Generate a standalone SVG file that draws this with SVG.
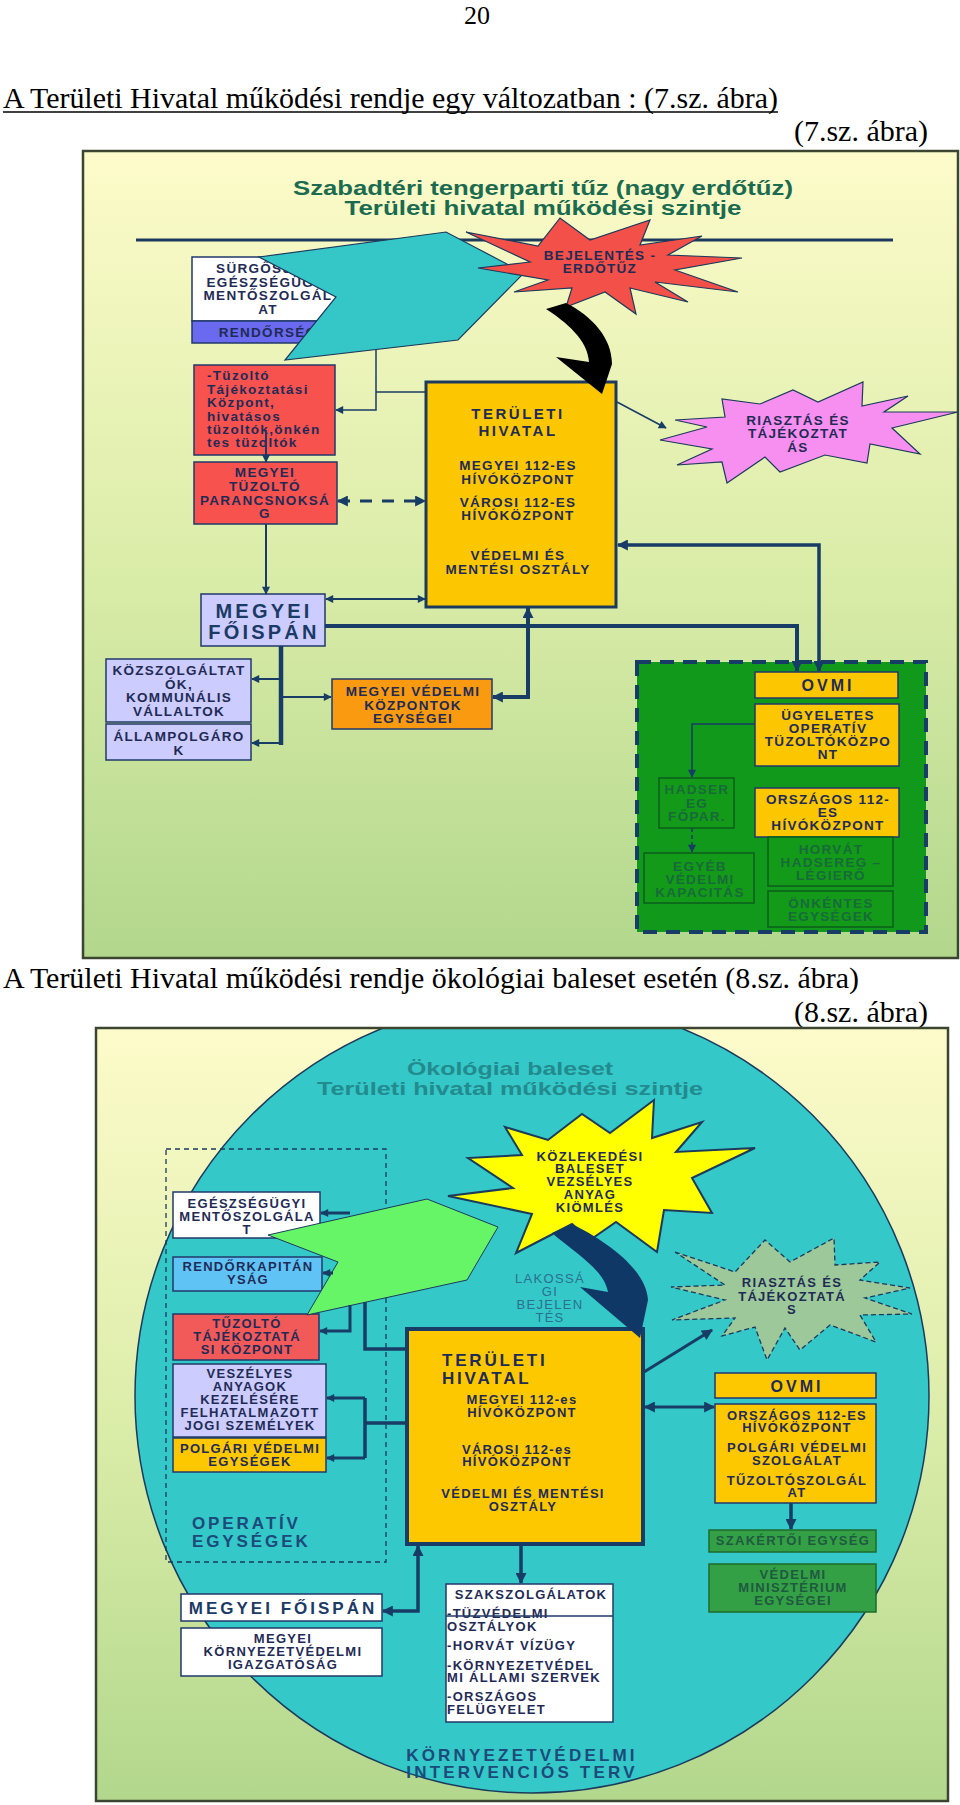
<svg xmlns="http://www.w3.org/2000/svg" width="960" height="1805" viewBox="0 0 960 1805">
<defs>
<linearGradient id="bg" x1="0" y1="0" x2="0" y2="1">
<stop offset="0" stop-color="#fdfbca"/>
<stop offset="0.5" stop-color="#dcedaa"/>
<stop offset="1" stop-color="#b2d78c"/>
</linearGradient>
<marker id="a" viewBox="0 0 10 10" refX="9" refY="5" markerWidth="9" markerHeight="8" markerUnits="userSpaceOnUse" orient="auto-start-reverse"><path d="M0,0L10,5L0,10z" fill="#173d66"/></marker>
<marker id="A" viewBox="0 0 10 10" refX="9" refY="5" markerWidth="12" markerHeight="11" markerUnits="userSpaceOnUse" orient="auto-start-reverse"><path d="M0,0L10,5L0,10z" fill="#173d66"/></marker>
<clipPath id="c2"><rect x="97" y="1029" width="850" height="771"/></clipPath>
<style>
.t{font-family:"Liberation Sans",Arial,Helvetica,sans-serif;font-weight:bold;font-size:13.5px;letter-spacing:1.3px;fill:#1f2b55;text-anchor:middle}
.s{font-size:13px}
.L{text-anchor:start}
.big{font-size:20px;letter-spacing:3.2px;fill:#1b3a66}
.ov{font-size:16px;letter-spacing:3px}
.th{font-size:15px;letter-spacing:2.5px}
.th2{font-size:17px;letter-spacing:2.8px}
.op{font-size:17px;letter-spacing:2.9px;fill:#1c4a7a}
.gt{fill:#186a3a}
.gt2{fill:#1f5a40}
.lak{font-weight:normal;fill:#2b7090}
.ttl{font-family:"Liberation Sans",Arial,Helvetica,sans-serif;font-weight:bold;font-size:20px;text-anchor:middle}
.hd{font-family:"Liberation Serif","Times New Roman",serif;font-size:30px;fill:#000}
.c{fill:none;stroke:#173d66}
.bx{stroke:#22386a;stroke-width:1.5}
.gb{stroke:#0b5e1c;stroke-width:1.5;fill:#129a18}
</style>
</defs>

<rect x="0" y="0" width="960" height="1805" fill="#fff"/>

<g id="page-text">
<text class="hd" x="477" y="24" text-anchor="middle" style="font-size:26px">20</text>
<text class="hd" x="3" y="108" textLength="775" lengthAdjust="spacingAndGlyphs">A Területi Hivatal működési rendje egy változatban : (7.sz. ábra)</text>
<line x1="3" y1="112" x2="778" y2="112" stroke="#000" stroke-width="1.5"/>
<text class="hd" x="928" y="141" text-anchor="end">(7.sz. ábra)</text>
<text class="hd" x="3" y="988" textLength="856" lengthAdjust="spacingAndGlyphs">A Területi Hivatal működési rendje ökológiai baleset esetén (8.sz. ábra)</text>
<text class="hd" x="928" y="1022" text-anchor="end">(8.sz. ábra)</text>
</g>

<!-- ================= FIGURE 7 ================= -->
<g id="fig7-frame">
<rect x="83" y="151" width="875" height="807" fill="url(#bg)" stroke="#3b4530" stroke-width="2.5"/>
<text class="ttl" x="543" y="195" fill="#1b6b50" textLength="500" lengthAdjust="spacingAndGlyphs">Szabadtéri tengerparti tűz (nagy erdőtűz)</text>
<text class="ttl" x="543" y="215" fill="#1b6b50" textLength="397" lengthAdjust="spacingAndGlyphs">Területi hivatal működési szintje</text>
<line x1="136" y1="240" x2="893" y2="240" stroke="#1c3a5c" stroke-width="3"/>
</g>

<g id="n-surgossegi">
<rect x="192" y="257" width="152" height="64" fill="#fff" class="bx"/>
<rect x="192" y="321" width="152" height="22" fill="#6a6af0" class="bx"/>
<text class="t" x="268" y="273">SÜRGŐSSÉGI</text>
<text class="t" x="268" y="287">EGÉSZSÉGÜGYI</text>
<text class="t" x="268" y="300">MENTŐSZOLGÁL</text>
<text class="t" x="268" y="314">AT</text>
<text class="t" x="268" y="337">RENDŐRSÉG</text>
</g>

<g id="n-cyan-arrow">
<polygon points="259,257 446,232 524,273 458,340 285,360 336,297" fill="#35c6c8" stroke="#1c3a5c" stroke-width="1.2"/>
</g>

<g id="n-bejelentes">
<polygon points="466,232 538,246 560,218 590,240 650,220 640,245 702,236 668,255 742,258 675,270 738,292 655,282 688,302 630,288 636,314 605,292 566,307 572,288 514,292 548,280 478,268 530,262" fill="#f25048" stroke="#1c3a5c" stroke-width="1.2"/>
<text class="t" x="600" y="260">BEJELENTÉS -</text>
<text class="t" x="600" y="273">ERDŐTŰZ</text>
</g>

<g id="n-teruleti1">
<rect x="426" y="382" width="190" height="225" fill="#fdc700" stroke="#1c3a5c" stroke-width="3"/>
<text class="t th" x="518" y="419">TERÜLETI</text>
<text class="t th" x="518" y="436">HIVATAL</text>
<text class="t" x="518" y="470">MEGYEI 112-ES</text>
<text class="t" x="518" y="484">HÍVÓKÖZPONT</text>
<text class="t" x="518" y="507">VÁROSI 112-ES</text>
<text class="t" x="518" y="520">HÍVÓKÖZPONT</text>
<text class="t" x="518" y="560">VÉDELMI ÉS</text>
<text class="t" x="518" y="574">MENTÉSI OSZTÁLY</text>
</g>

<g id="n-tuzolto-taj">
<rect x="194" y="365" width="141" height="90" fill="#f8524f" class="bx"/>
<text class="t L" x="207" y="380">-Tüzoltó</text>
<text class="t L" x="207" y="394">Tájékoztatási</text>
<text class="t L" x="207" y="407">Központ,</text>
<text class="t L" x="207" y="421">hivatásos</text>
<text class="t L" x="207" y="434">tüzoltók,önkén</text>
<text class="t L" x="207" y="447">tes tüzoltók</text>
</g>

<g id="n-tuzolto-parancs">
<rect x="194" y="462" width="143" height="62" fill="#f8524f" class="bx"/>
<text class="t" x="265" y="477">MEGYEI</text>
<text class="t" x="265" y="491">TÜZOLTÓ</text>
<text class="t" x="265" y="505">PARANCSNOKSÁ</text>
<text class="t" x="265" y="518">G</text>
</g>

<g id="n-riasztas1">
<polygon points="660,440 707,427 675,420 725,417 722,399 760,404 793,390 818,402 863,382 862,406 908,396 884,412 958,412 892,428 920,454 870,444 867,463 825,455 780,472 765,457 727,483 722,462 677,465 712,449" fill="#f78ff0" stroke="#1c3a5c" stroke-width="1.2"/>
<text class="t" x="798" y="425">RIASZTÁS ÉS</text>
<text class="t" x="798" y="438">TÁJÉKOZTAT</text>
<text class="t" x="798" y="452">ÁS</text>
</g>

<g id="n-foispan1">
<rect x="201" y="594" width="124" height="52" fill="#ccccff" class="bx"/>
<text class="t big" x="264" y="618">MEGYEI</text>
<text class="t big" x="264" y="639">FŐISPÁN</text>
</g>

<g id="n-kozszolg">
<rect x="106" y="659" width="145" height="63" fill="#ccccff" class="bx"/>
<text class="t" x="179" y="675">KÖZSZOLGÁLTAT</text>
<text class="t" x="179" y="689">ÓK,</text>
<text class="t" x="179" y="702">KOMMUNÁLIS</text>
<text class="t" x="179" y="716">VÁLLALTOK</text>
</g>

<g id="n-allampolg">
<rect x="106" y="724" width="145" height="36" fill="#ccccff" class="bx"/>
<text class="t" x="179" y="741">ÁLLAMPOLGÁRO</text>
<text class="t" x="179" y="755">K</text>
</g>

<g id="n-megyei-vedelmi">
<rect x="332" y="679" width="160" height="50" fill="#fa9a10" class="bx"/>
<text class="t" x="413" y="696">MEGYEI VÉDELMI</text>
<text class="t" x="413" y="710">KÖZPONTOK</text>
<text class="t" x="413" y="723">EGYSÉGEI</text>
</g>

<g id="n-green-area">
<rect x="637" y="662" width="289" height="270" fill="#10991a" stroke="#173d66" stroke-width="4" stroke-dasharray="14 9"/>
</g>

<g id="n-ovmi1">
<rect x="755" y="672" width="143" height="26" fill="#fdc700" class="bx"/>
<text class="t ov" x="828" y="691">OVMI</text>
</g>

<g id="n-ugyeletes">
<rect x="755" y="704" width="144" height="62" fill="#fdc700" class="bx"/>
<text class="t" x="828" y="720">ÜGYELETES</text>
<text class="t" x="828" y="733">OPERATÍV</text>
<text class="t" x="828" y="746">TÜZOLTÓKÖZPO</text>
<text class="t" x="828" y="759">NT</text>
</g>

<g id="n-hadsereg">
<rect x="659" y="778" width="75" height="50" class="gb"/>
<text class="t gt" x="697" y="794">HADSER</text>
<text class="t gt" x="697" y="808">EG</text>
<text class="t gt" x="697" y="821">FŐPAR.</text>
</g>

<g id="n-egyeb">
<rect x="644" y="853" width="110" height="50" class="gb"/>
<text class="t gt" x="700" y="871">EGYÉB</text>
<text class="t gt" x="700" y="884">VÉDELMI</text>
<text class="t gt" x="700" y="897">KAPACITÁS</text>
</g>

<g id="n-orszagos1">
<rect x="755" y="788" width="144" height="49" fill="#fdc700" class="bx"/>
<text class="t" x="828" y="804">ORSZÁGOS 112-</text>
<text class="t" x="828" y="817">ES</text>
<text class="t" x="828" y="830">HÍVÓKÖZPONT</text>
</g>

<g id="n-horvat">
<rect x="768" y="837" width="125" height="49" class="gb"/>
<text class="t gt" x="831" y="854">HORVÁT</text>
<text class="t gt" x="831" y="867">HADSEREG –</text>
<text class="t gt" x="831" y="880">LÉGIERŐ</text>
</g>

<g id="n-onkentes">
<rect x="768" y="891" width="125" height="36" class="gb"/>
<text class="t gt" x="831" y="908">ÖNKÉNTES</text>
<text class="t gt" x="831" y="921">EGYSÉGEK</text>
</g>

<g id="connectors7">
<path d="M546,309 C566,322 588,340 589,362 L556,357 L602,394 L612,364 C612,338 592,316 566,303 Z" fill="#000"/>
<path class="c" stroke-width="1.5" d="M426,392 H376"/>
<path class="c" stroke-width="1.5" d="M376,350 V410 H336" marker-end="url(#a)"/>
<path class="c" stroke-width="2" d="M266,430 V462" marker-end="url(#a)"/>
<path class="c" stroke-width="2" d="M266,524 V594" marker-end="url(#a)"/>
<path class="c" stroke-width="3" stroke-dasharray="12 10" d="M338,501 H425" marker-start="url(#A)" marker-end="url(#A)"/>
<path class="c" stroke-width="2" d="M326,599 H425" marker-start="url(#a)" marker-end="url(#a)"/>
<path class="c" stroke-width="4" d="M325,626 H797 V671" marker-end="url(#A)"/>
<path class="c" stroke-width="3.5" d="M618,545 H819 V671" marker-start="url(#A)" marker-end="url(#A)"/>
<path class="c" stroke-width="4.5" d="M281,646 V745"/>
<path class="c" stroke-width="2" d="M281,679 H252" marker-end="url(#a)"/>
<path class="c" stroke-width="2" d="M281,743 H252" marker-end="url(#a)"/>
<path class="c" stroke-width="2" d="M281,697 H331" marker-end="url(#a)"/>
<path class="c" stroke-width="4" d="M493,697 H528 V608" marker-start="url(#A)" marker-end="url(#A)"/>
<path class="c" stroke-width="1.5" d="M617,402 L666,428" marker-end="url(#a)"/>
<path class="c" stroke-width="1.5" d="M755,724 H692 V777" marker-end="url(#a)"/>
<path class="c" stroke-width="1.5" stroke-dasharray="4 3" d="M692,828 V852" marker-end="url(#a)"/>
</g>

<!-- ================= FIGURE 8 ================= -->
<g id="fig8-frame">
<rect x="96" y="1028" width="852" height="773" fill="url(#bg)"/>
<circle cx="532" cy="1396" r="397" fill="#34c8c8" stroke="#1c3a5c" stroke-width="1.5" clip-path="url(#c2)"/>
<rect x="96" y="1028" width="852" height="773" fill="none" stroke="#3b4530" stroke-width="2.5"/>
<text class="ttl" x="510" y="1075" fill="#238a8e" style="font-size:19px" textLength="206" lengthAdjust="spacingAndGlyphs">Ökológiai baleset</text>
<text class="ttl" x="510" y="1095" fill="#238a8e" style="font-size:19px" textLength="386" lengthAdjust="spacingAndGlyphs">Területi hivatal működési szintje</text>
<rect x="166" y="1149" width="220" height="413" fill="none" stroke="#1c3a5c" stroke-width="1.3" stroke-dasharray="5 4"/>
<text class="t op L" x="192" y="1529">OPERATÍV</text>
<text class="t op L" x="192" y="1547">EGYSÉGEK</text>
</g>

<g id="n-egeszsegugyi">
<rect x="173" y="1192" width="147" height="46" fill="#fff" class="bx"/>
<text class="t s" x="247" y="1208">EGÉSZSÉGÜGYI</text>
<text class="t s" x="247" y="1221">MENTŐSZOLGÁLA</text>
<text class="t s" x="247" y="1234">T</text>
</g>

<g id="n-rendorkap">
<rect x="173" y="1257" width="149" height="34" fill="#5fc3f5" class="bx"/>
<text class="t s" x="248" y="1271">RENDŐRKAPITÁN</text>
<text class="t s" x="248" y="1284">YSÁG</text>
</g>

<g id="n-tuzolto2">
<rect x="173" y="1314" width="146" height="46" fill="#f25a5a" class="bx"/>
<text class="t s" x="247" y="1328">TŰZOLTÓ</text>
<text class="t s" x="247" y="1341">TÁJÉKOZTATÁ</text>
<text class="t s" x="247" y="1354">SI KÖZPONT</text>
</g>

<g id="n-veszelyes">
<rect x="173" y="1364" width="153" height="73" fill="#ccccff" class="bx"/>
<text class="t s" x="250" y="1378">VESZÉLYES</text>
<text class="t s" x="250" y="1391">ANYAGOK</text>
<text class="t s" x="250" y="1404">KEZELÉSÉRE</text>
<text class="t s" x="250" y="1417">FELHATALMAZOTT</text>
<text class="t s" x="250" y="1430">JOGI SZEMÉLYEK</text>
</g>

<g id="n-polgari">
<rect x="173" y="1438" width="153" height="34" fill="#fdc800" class="bx"/>
<text class="t s" x="250" y="1453">POLGÁRI VÉDELMI</text>
<text class="t s" x="250" y="1466">EGYSÉGEK</text>
</g>

<g id="n-green-arrow">
<polygon points="268,1235 427,1199 498,1227 467,1280 307,1315 338,1262" fill="#66f566" stroke="#1c3a5c" stroke-width="1"/>
</g>

<g id="n-kozlekedesi">
<polygon points="505,1127 548,1140 582,1114 610,1133 654,1100 652,1138 702,1122 676,1152 755,1148 692,1178 712,1213 664,1210 657,1252 616,1222 590,1240 572,1224 516,1253 532,1214 448,1196 513,1188 468,1158 522,1155" fill="#ffff00" stroke="#1c3a5c" stroke-width="2"/>
<text class="t s" x="590" y="1161">KÖZLEKEDÉSI</text>
<text class="t s" x="590" y="1173">BALESET</text>
<text class="t s" x="590" y="1186">VEZSÉLYES</text>
<text class="t s" x="590" y="1199">ANYAG</text>
<text class="t s" x="590" y="1212">KIÖMLÉS</text>
</g>

<g id="n-lakossagi">
<text class="t s lak" x="550" y="1283">LAKOSSÁ</text>
<text class="t s lak" x="550" y="1296">GI</text>
<text class="t s lak" x="550" y="1309">BEJELEN</text>
<text class="t s lak" x="550" y="1322">TÉS</text>
</g>

<g id="n-teruleti2">
<rect x="407" y="1329" width="236" height="215" fill="#fdc800" stroke="#173d66" stroke-width="4"/>
<text class="t th2 L" x="442" y="1366">TERÜLETI</text>
<text class="t th2 L" x="442" y="1384">HIVATAL</text>
<text class="t s" x="522" y="1404">MEGYEI 112-es</text>
<text class="t s" x="522" y="1417">HÍVÓKÖZPONT</text>
<text class="t s" x="517" y="1454">VÁROSI 112-es</text>
<text class="t s" x="517" y="1466">HÍVÓKÖZPONT</text>
<text class="t s" x="523" y="1498">VÉDELMI ÉS MENTÉSI</text>
<text class="t s" x="523" y="1511">OSZTÁLY</text>
</g>

<g id="n-riasztas2">
<polygon points="675,1252 735,1272 765,1240 790,1262 834,1238 835,1265 880,1262 860,1280 910,1288 865,1298 912,1314 860,1315 876,1342 830,1325 800,1350 785,1328 767,1360 755,1327 722,1336 735,1318 672,1320 725,1300 671,1287 725,1285" fill="#9dc89a" stroke="#1c3a5c" stroke-width="1.3" stroke-dasharray="5 3"/>
<text class="t s" x="792" y="1287">RIASZTÁS ÉS</text>
<text class="t s" x="792" y="1301">TÁJÉKOZTATÁ</text>
<text class="t s" x="792" y="1314">S</text>
</g>

<g id="n-ovmi2">
<rect x="715" y="1373" width="161" height="25" fill="#fdc800" class="bx"/>
<text class="t ov" x="797" y="1392">OVMI</text>
</g>

<g id="n-orszagos2">
<rect x="715" y="1404" width="161" height="99" fill="#fdc800" class="bx"/>
<text class="t s" x="797" y="1420">ORSZÁGOS 112-ES</text>
<text class="t s" x="797" y="1432">HÍVÓKÖZPONT</text>
<text class="t s" x="797" y="1452">POLGÁRI VÉDELMI</text>
<text class="t s" x="797" y="1465">SZOLGÁLAT</text>
<text class="t s" x="797" y="1485">TŰZOLTÓSZOLGÁL</text>
<text class="t s" x="797" y="1497">AT</text>
</g>

<g id="n-szakertoi">
<rect x="709" y="1530" width="167" height="22" fill="#33a045" stroke="#1d6b2e" stroke-width="1.5"/>
<text class="t s gt2" x="793" y="1545">SZAKÉRTŐI EGYSÉG</text>
</g>

<g id="n-vedelmi-min">
<rect x="709" y="1564" width="167" height="48" fill="#33a045" stroke="#1d6b2e" stroke-width="1.5"/>
<text class="t s gt2" x="793" y="1579">VÉDELMI</text>
<text class="t s gt2" x="793" y="1592">MINISZTÉRIUM</text>
<text class="t s gt2" x="793" y="1605">EGYSÉGEI</text>
</g>

<g id="n-foispan2">
<rect x="181" y="1594" width="201" height="27" fill="#fff" class="bx"/>
<text class="t" x="283" y="1614" style="font-size:17px;letter-spacing:3px;fill:#1b3a66">MEGYEI FŐISPÁN</text>
</g>

<g id="n-kornyezet-igazg">
<rect x="181" y="1628" width="201" height="48" fill="#fff" class="bx"/>
<text class="t s" x="283" y="1643">MEGYEI</text>
<text class="t s" x="283" y="1656">KÖRNYEZETVÉDELMI</text>
<text class="t s" x="283" y="1669">IGAZGATÓSÁG</text>
</g>

<g id="n-szakszolg">
<rect x="446" y="1584" width="167" height="138" fill="#fff" class="bx"/>
<text class="t s" x="531" y="1599">SZAKSZOLGÁLATOK</text>
<text class="t s L" x="447" y="1618">-TÜZVÉDELMI</text>
<line x1="446" y1="1616" x2="613" y2="1616" stroke="#22386a" stroke-width="1.5"/>
<text class="t s L" x="447" y="1631">OSZTÁLYOK</text>
<text class="t s L" x="447" y="1650">-HORVÁT VÍZÜGY</text>
<text class="t s L" x="447" y="1670">-KÖRNYEZETVÉDEL</text>
<text class="t s L" x="447" y="1682">MI ÁLLAMI SZERVEK</text>
<text class="t s L" x="447" y="1701">-ORSZÁGOS</text>
<text class="t s L" x="447" y="1714">FELÜGYELET</text>
</g>

<g id="n-intervencios">
<text class="t" x="522" y="1761" style="font-size:17px;letter-spacing:3.2px;fill:#1c4a7a">KÖRNYEZETVÉDELMI</text>
<text class="t" x="522" y="1778" style="font-size:17px;letter-spacing:3.2px;fill:#1c4a7a">INTERVENCIÓS TERV</text>
</g>

<g id="connectors8">
<path d="M552,1233 C578,1255 604,1270 608,1292 L580,1287 L640,1338 L648,1300 C646,1268 604,1240 572,1224 Z" fill="#0f3866"/>
<path class="c" stroke-width="3" d="M350,1213 H321" marker-end="url(#a)"/>
<path class="c" stroke-width="3" d="M333,1273 H323" marker-end="url(#a)"/>
<path class="c" stroke-width="3" d="M350,1305 V1331 H320" marker-end="url(#a)"/>
<path class="c" stroke-width="3.5" d="M365,1302 V1349 H407"/>
<path class="c" stroke-width="3.5" d="M407,1423 H365"/>
<path class="c" stroke-width="3.5" d="M365,1398 V1458"/>
<path class="c" stroke-width="3" d="M365,1398 H327" marker-end="url(#a)"/>
<path class="c" stroke-width="3" d="M365,1458 H327" marker-end="url(#a)"/>
<path class="c" stroke-width="3" d="M644,1372 L712,1330" marker-end="url(#A)"/>
<path class="c" stroke-width="3" d="M645,1407 H714" marker-start="url(#A)" marker-end="url(#A)"/>
<path class="c" stroke-width="3.5" d="M791,1503 V1529" marker-end="url(#A)"/>
<path class="c" stroke-width="3.5" d="M418,1546 V1611 H383" marker-start="url(#A)" marker-end="url(#A)"/>
<path class="c" stroke-width="3.5" d="M521,1546 V1583" marker-end="url(#A)"/>
</g>
</svg>
